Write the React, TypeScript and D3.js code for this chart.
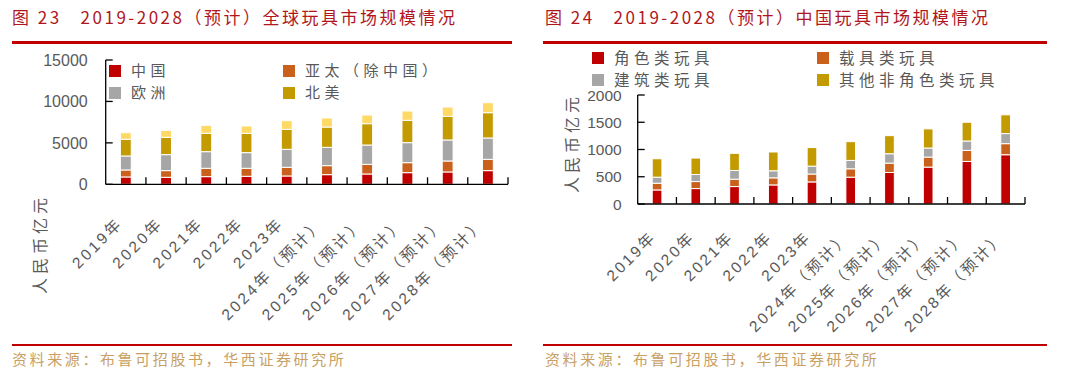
import React from 'react';
import * as d3 from 'd3';

const years = ['2019年', '2020年', '2021年', '2022年', '2023年', '2024年（预计）', '2025年（预计）', '2026年（预计）', '2027年（预计）', '2028年（预计）'];

// Figure 23: global toy market (RMB 100m)
const globalKeys = ['中国', '亚太（除中国）', '欧洲', '北美', '其他'];
const globalChina = [885, 845, 925, 965, 1005, 1165, 1245, 1405, 1490, 1650];
const globalAPAC = [845, 805, 1005, 965, 1045, 1085, 1165, 1205, 1325, 1365];
const globalEurope = [1690, 1930, 2010, 1890, 2170, 2210, 2330, 2415, 2535, 2575];
const globalNA = [2010, 2090, 2210, 2330, 2410, 2450, 2575, 2695, 2850, 3050];
const globalOther = [800, 840, 965, 885, 1050, 1090, 1045, 1125, 1125, 1210];
const globalTicks = [0, 5000, 10000, 15000];

// Figure 24: China toy market (RMB 100m)
const chinaKeys = ['角色类玩具', '载具类玩具', '建筑类玩具', '其他非角色类玩具'];
const chinaCharacter = [258, 283, 320, 350, 405, 492, 578, 677, 781, 904];
const chinaVehicle = [123, 129, 135, 130, 145, 154, 172, 184, 203, 203];
const chinaBuilding = [111, 129, 160, 130, 145, 154, 172, 166, 172, 185];
const chinaOther = [338, 302, 314, 344, 340, 344, 332, 351, 344, 344];
const chinaTicks = [0, 500, 1000, 1500, 2000];

const colors = ['#C00000', '#C9601C', '#A6A6A6', '#C39A00', '#FFD966'];

const CJK = '"Noto Sans CJK SC", "Liberation Sans", sans-serif';
const NUM = '"Liberation Sans", "Noto Sans CJK SC", sans-serif';
const TEXT = '#595959';
const RED = '#C00000';

type ChartProps = {
  series: number[][];
  keys: string[];
  xr: [number, number];
  yr: [number, number];
  ymax: number;
  ticks: number[];
  barRatio: number;
  tickFont: number;
  labelGap: number;
  labelDx: number;
  labelDy: number;
  labelSpacing: number;
  yTitleX: number;
  yTitleY: number;
};

function StackedChart(p: ChartProps) {
  const x = d3.scaleBand<string>().domain(years).range(p.xr).paddingInner(0).paddingOuter(0);
  const y = d3.scaleLinear().domain([0, p.ymax]).range(p.yr);
  const rows = years.map((yr, i) => {
    const o: any = { year: yr };
    p.keys.forEach((k, j) => (o[k] = p.series[j][i]));
    return o;
  });
  const stacked = d3.stack<any>().keys(p.keys)(rows);
  const bw = x.bandwidth() * p.barRatio;
  const axisY = y(0);
  const axisX = p.xr[0];
  return (
    <g>
      {stacked.map((layer, j) => (
        <g key={j} fill={colors[j]}>
          {layer.map((d, i) => {
            const cx = (x(years[i]) as number) + x.bandwidth() / 2;
            return (
              <rect key={i} x={cx - bw / 2} y={y(d[1])} width={bw} height={Math.max(0, y(d[0]) - y(d[1]))} stroke="#fff" strokeWidth={1} />
            );
          })}
        </g>
      ))}
      {/* y axis */}
      <line x1={axisX} x2={axisX} y1={y(p.ymax)} y2={axisY} stroke="#000" strokeWidth={1.3} />
      {p.ticks.map((t) => (
        <g key={t}>
          <line x1={axisX} x2={axisX + 7} y1={y(t)} y2={y(t)} stroke="#000" strokeWidth={1.3} />
          <text x={axisX - p.labelGap} y={y(t)} dy="0.36em" textAnchor="end" fontFamily={NUM} fontSize={p.tickFont} fill={TEXT}>
            {t}
          </text>
        </g>
      ))}
      {/* x axis */}
      <line x1={axisX} x2={p.xr[1]} y1={axisY} y2={axisY} stroke="#000" strokeWidth={1.3} />
      {years.map((yr, i) => {
        const bx = (x(yr) as number) + x.bandwidth();
        return <line key={i} x1={bx} x2={bx} y1={axisY} y2={axisY - 7} stroke="#000" strokeWidth={1.3} />;
      })}
      {years.map((yr, i) => {
        const cx = (x(yr) as number) + x.bandwidth() / 2;
        const px = cx + p.labelDx;
        const py = axisY + p.labelDy;
        return (
          <text key={i} x={px} y={py} textAnchor="end" transform={`rotate(-45 ${px} ${py})`} fontFamily={NUM} fontSize={15.5} letterSpacing={p.labelSpacing} fill={TEXT}>
            {yr}
          </text>
        );
      })}
      <text x={p.yTitleX} y={p.yTitleY} transform={`rotate(-90 ${p.yTitleX} ${p.yTitleY})`} textAnchor="middle" fontFamily={CJK} fontSize={16} letterSpacing={4} fill={TEXT}>
        人民币亿元
      </text>
    </g>
  );
}

function Legend({ items, x0, x1, y0, y1, fs, ls }: { items: string[]; x0: number; x1: number; y0: number; y1: number; fs: number; ls: number }) {
  return (
    <g>
      {items.map((t, i) => {
        const col = i % 2;
        const row = Math.floor(i / 2);
        const lx = col === 0 ? x0 : x1;
        const ly = row === 0 ? y0 : y1;
        return (
          <g key={i}>
            <rect x={lx} y={ly - 6} width={12} height={12} fill={colors[i]} />
            <text x={lx + 22} y={ly} dy="0.36em" fontFamily={CJK} fontSize={fs} letterSpacing={ls} fill={TEXT}>
              {t}
            </text>
          </g>
        );
      })}
    </g>
  );
}

export default function App() {
  return (
    <svg width={1069} height={376} style={{ position: 'absolute', left: 0, top: 0, background: '#fff' }}>
      <rect width={1069} height={376} fill="#fff" />
      {/* Titles */}
      <text x={12} y={24} fontFamily={CJK} fontSize={17} fill="#B0161C" letterSpacing={2.5} style={{ whiteSpace: 'pre' }}>
        {'图 23   2019-2028（预计）全球玩具市场规模情况'}
      </text>
      <text x={545} y={24} fontFamily={CJK} fontSize={17} fill="#B0161C" letterSpacing={2.5} style={{ whiteSpace: 'pre' }}>
        {'图 24   2019-2028（预计）中国玩具市场规模情况'}
      </text>
      <rect x={12} y={41} width={500} height={3} fill={RED} />
      <rect x={543} y={41} width={504} height={3} fill={RED} />

      <StackedChart
        series={[globalChina, globalAPAC, globalEurope, globalNA, globalOther]}
        keys={globalKeys}
        xr={[105.7, 508]}
        yr={[184.3, 60]}
        ymax={15000}
        ticks={globalTicks}
        barRatio={0.27}
        tickFont={16}
        labelGap={18}
        labelDx={-2}
        labelDy={40}
        labelSpacing={2.8}
        yTitleX={46}
        yTitleY={244}
      />
      <Legend items={globalKeys.slice(0, 4)} x0={109} x1={283} y0={71} y1={93} fs={15} ls={4.5} />

      <StackedChart
        series={[chinaCharacter, chinaVehicle, chinaBuilding, chinaOther]}
        keys={chinaKeys}
        xr={[637.7, 1025]}
        yr={[204, 95]}
        ymax={2000}
        ticks={chinaTicks}
        barRatio={0.25}
        tickFont={15.5}
        labelGap={16}
        labelDx={0}
        labelDy={34}
        labelSpacing={2.5}
        yTitleX={578}
        yTitleY={143}
      />
      <Legend items={chinaKeys} x0={592} x1={817} y0={58} y1={80} fs={15.5} ls={4.5} />

      {/* footers */}
      <rect x={12} y={344} width={500} height={2} fill={RED} />
      <rect x={543} y={344} width={504} height={2} fill={RED} />
      <text x={12} y={365} fontFamily={CJK} fontSize={15} letterSpacing={2.6} fill="#C9A063">
        资料来源：布鲁可招股书，华西证券研究所
      </text>
      <text x={545} y={365} fontFamily={CJK} fontSize={15} letterSpacing={2.6} fill="#C9A063">
        资料来源：布鲁可招股书，华西证券研究所
      </text>
    </svg>
  );
}
